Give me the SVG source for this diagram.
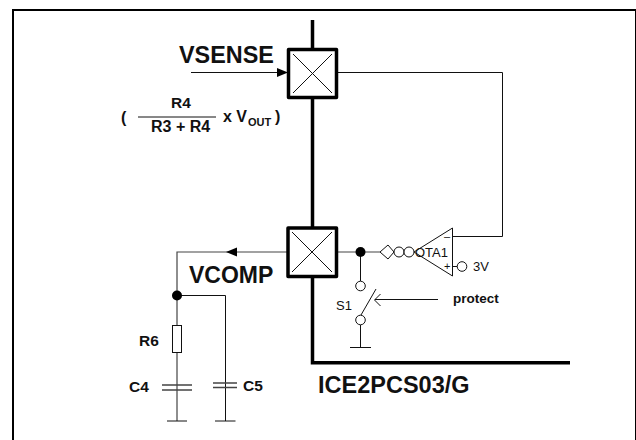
<svg xmlns="http://www.w3.org/2000/svg" width="636" height="440" viewBox="0 0 636 440">
<style>
text{font-family:"Liberation Sans",Arial,sans-serif;fill:#111}
.b{font-weight:bold}
.w{fill:none;stroke:#111;stroke-width:1}
.g{fill:none;stroke:#444;stroke-width:1.200}
.t{fill:none;stroke:#000;stroke-width:3.500}
.o{fill:#fff;stroke:#111;stroke-width:1}
.box{fill:#fff;stroke:#000;stroke-width:3.500;stroke-linejoin:round}
</style>
<path id="frame" d="M13 440V10H636V440" fill="none" stroke="#000" stroke-width="2"/>
<g id="connectors">
<path class="t" d="M312.500 20V362.700H570"/>
<path class="w" d="M337 72.500H502.500V236.500H452.500"/>
<path class="w" d="M191 72.500H280"/>
<path d="M277 68L288 72.500L277 77Z" fill="#000"/>
<path class="g" d="M287 252H177V421"/>
<path d="M226 252L237 247.500V256.500Z" fill="#000"/>
<path class="w" d="M177 295.500H225.500V421"/>
<path class="g" d="M337 252H380"/>
<path class="w" d="M360.500 252V281M360.500 325V347.500M350 347.500H371"/>
<path class="w" d="M361 315L376 289"/>
<path class="w" d="M438 299.500H375M380.500 294L374.500 300L380.500 306"/>
<path class="w" d="M452.500 266.500H458"/>
<path class="w" d="M388 245L380 252L388 259M388 245L394 252L388 259"/>
<path class="w" d="M414 252L452.500 228V276Z"/>
</g>
<g id="sense-box"><rect class="box" x="288.500" y="49.500" width="48" height="48"/><path class="w" d="M293 54L332 93M332 54L293 93"/></g>
<g id="comp-box"><rect class="box" x="288" y="228" width="48.500" height="48.500"/><path class="w" d="M292 232L332 272M332 232L292 272"/></g>
<g id="node-out"><circle cx="360.500" cy="252" r="5" fill="#000"/></g>
<g id="node-c"><circle cx="177" cy="295.500" r="5" fill="#000"/></g>
<g id="ota1"><circle class="o" cx="399" cy="252" r="5"/><circle class="o" cx="409" cy="252" r="5"/>
<text x="415" y="256.500" font-size="13">OTA1</text><text x="444" y="240" font-size="11">–</text><text x="444" y="270" font-size="11">+</text>
<circle class="o" cx="462" cy="266.500" r="4.800"/>
<text x="473" y="271" font-size="13">3V</text></g>
<g id="s1"><circle class="o" cx="360.500" cy="286" r="4.800"/><circle class="o" cx="360.500" cy="320" r="4.800"/><text x="336" y="309.500" font-size="13">S1</text></g>
<g id="r6"><rect x="172.500" y="325.500" width="9" height="27" fill="#fff" stroke="#111"/><text x="139" y="346" font-size="15.500" class="b">R6</text></g>
<g id="c4"><path d="M162 385H192M162 390H192" stroke="#444" stroke-width="1.500" fill="none"/><path class="w" d="M167 421H187"/><text x="129" y="392" font-size="15.500" class="b">C4</text></g>
<g id="c5"><path d="M213 383H237M213 387.500H237" stroke="#444" stroke-width="1.500" fill="none"/><path class="w" d="M215 421H235.500"/><text x="243" y="391" font-size="15.500" class="b">C5</text></g>
<text x="179" y="63" font-size="23.400" class="b">VSENSE</text>
<text x="189" y="283" font-size="23" class="b">VCOMP</text>
<text x="318" y="393" font-size="23.500" class="b">ICE2PCS03/G</text>
<text x="453" y="303" font-size="13.500" class="b">protect</text>
<text x="171" y="108" font-size="15.500" class="b">R4</text>
<text x="151" y="132" font-size="16" class="b">R3 + R4</text>
<path class="w" d="M138 117H216"/>
<text x="121" y="123" font-size="16" class="b">(</text>
<text x="223" y="122" font-size="16" class="b">x V</text>
<text x="248" y="126" font-size="11" class="b">OUT</text>
<text x="275" y="122" font-size="16" class="b">)</text>
</svg>
